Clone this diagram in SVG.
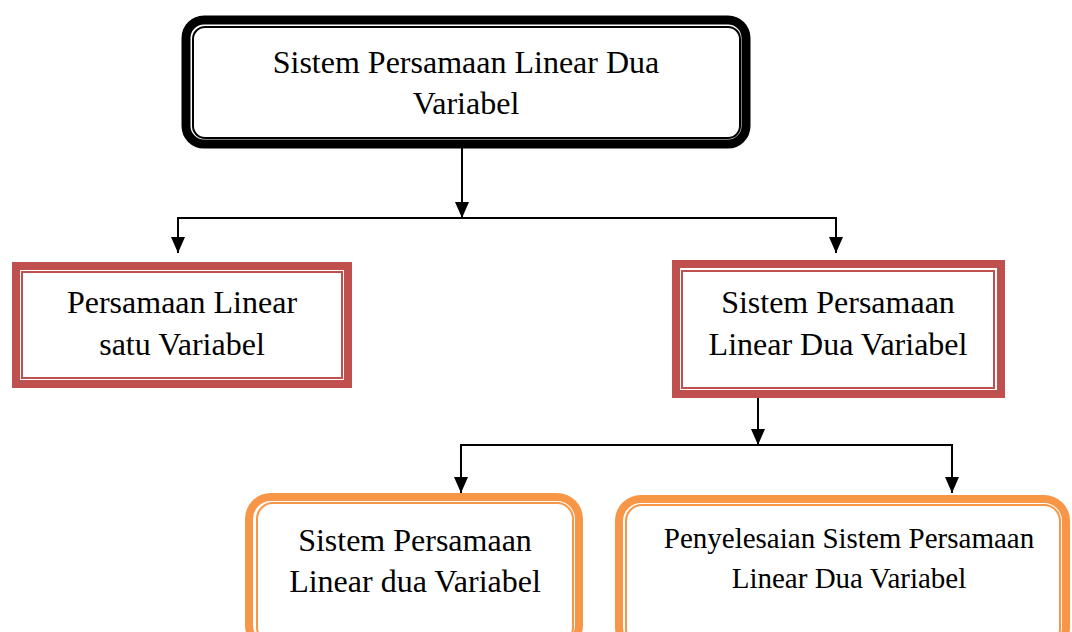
<svg xmlns="http://www.w3.org/2000/svg" width="1072" height="632" viewBox="0 0 1072 632">
<defs>
<style>
.t{font-family:"Liberation Serif","Times New Roman",serif;font-size:32px;fill:#000;text-anchor:middle}
.ts{font-size:29px}
.conn{fill:none;stroke:#000;stroke-width:2}
.red{fill:#fff;stroke:#C0504D;stroke-width:8}
.redi{fill:none;stroke:#C0504D;stroke-width:2}
.org{fill:#fff;stroke:#F79646;stroke-width:8}
.orgi{fill:none;stroke:#F79646;stroke-width:2}
</style>
<marker id="ah" viewBox="0 0 16 14" refX="16" refY="7" markerWidth="16" markerHeight="14" markerUnits="userSpaceOnUse" orient="auto">
<path d="M0,0 L16,7 L0,14 z" fill="#000"/>
</marker>
</defs>
<rect width="1072" height="632" fill="#fff"/>
<g id="connectors">
<path class="conn" d="M462,148 V218" marker-end="url(#ah)"/>
<path class="conn" d="M462,218 H178 V253" marker-end="url(#ah)"/>
<path class="conn" d="M462,218 H836 V253" marker-end="url(#ah)"/>
<path class="conn" d="M758,398 V445" marker-end="url(#ah)"/>
<path class="conn" d="M758,445 H461 V493" marker-end="url(#ah)"/>
<path class="conn" d="M758,445 H952 V493" marker-end="url(#ah)"/>
</g>
<g id="n_top">
<rect x="186" y="20" width="560" height="124" rx="18" fill="#fff" stroke="#000" stroke-width="9"/>
<rect x="193" y="27" width="547" height="111" rx="12" fill="none" stroke="#000" stroke-width="2"/>
<text class="t" x="466" y="73">Sistem Persamaan Linear Dua</text>
<text class="t" x="466" y="114">Variabel</text>
</g>
<g id="n_plsv">
<rect class="red" x="16" y="266" width="332" height="118"/>
<rect class="redi" x="22" y="272" width="320" height="106"/>
<text class="t" x="182" y="313">Persamaan Linear</text>
<text class="t" x="182" y="355">satu Variabel</text>
</g>
<g id="n_spldv">
<rect class="red" x="676" y="264" width="325" height="130"/>
<rect class="redi" x="682" y="271" width="312" height="117"/>
<text class="t" x="838" y="313">Sistem Persamaan</text>
<text class="t" x="838" y="355">Linear Dua Variabel</text>
</g>
<g id="n_spldv2">
<rect class="org" x="249" y="497" width="330" height="150" rx="22"/>
<rect class="orgi" x="257" y="503" width="316" height="140" rx="16"/>
<text class="t" x="415" y="551">Sistem Persamaan</text>
<text class="t" x="415" y="592">Linear dua Variabel</text>
</g>
<g id="n_penyelesaian">
<rect class="org" x="619" y="499" width="447" height="150" rx="22"/>
<rect class="orgi" x="626" y="505" width="434" height="140" rx="16"/>
<text class="t ts" x="849" y="548">Penyelesaian Sistem Persamaan</text>
<text class="t ts" x="849" y="588">Linear Dua Variabel</text>
</g>
</svg>
